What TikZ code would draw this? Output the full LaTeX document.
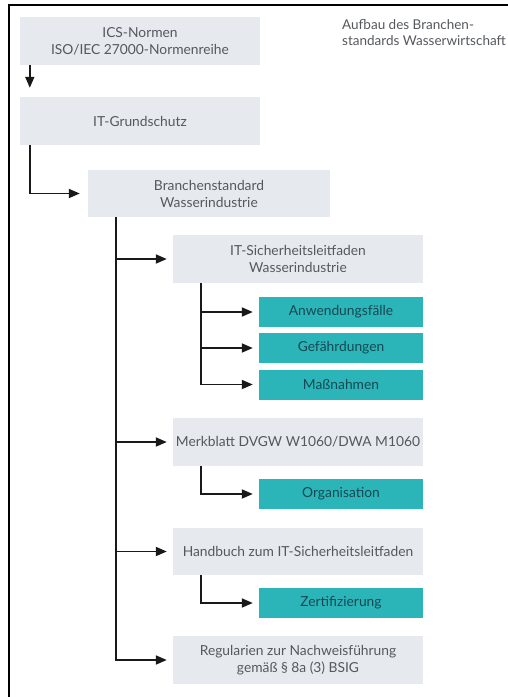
\documentclass[tikz,border=0pt]{standalone}
\usepackage{fontspec}
\setmainfont{Lato}
\usetikzlibrary{arrows.meta,positioning}
\definecolor{mist}{RGB}{230,233,238}
\definecolor{teal}{RGB}{43,181,184}
\definecolor{deepteal}{RGB}{22,72,84}
\definecolor{slate}{RGB}{85,88,92}
\definecolor{ink}{RGB}{25,25,25}
\tikzset{
  >={Triangle[length=11pt,width=9pt]},
  gbox/.style={fill=mist,text=slate,minimum height=48pt,minimum width=#1,
    align=center,font=\fontsize{13.8}{17}\selectfont,inner sep=1pt},
  gbox/.default=250pt,
  tbox/.style={fill=teal,text=deepteal,minimum height=30pt,minimum width=164pt,
    align=center,font=\fontsize{13.8}{17}\selectfont},
  flow/.style={->,line width=1.8pt,draw=ink,shorten >=#1},
  flow/.default=6pt,
}
\begin{document}
\begin{tikzpicture}[x=1pt,y=-1pt]
  \useasboundingbox (0,0) rectangle (508,697);
  \clip (0,0) rectangle (508,697);
  \draw[line width=1.2pt] (9,697) -- (9,5) -- (508,5);

  % left column
  \node[gbox=240pt] (ics) at (140,41) {ICS-Normen\\ISO/IEC 27000-Normenreihe};
  \node[gbox=240pt] (grund) at (140,121) {IT-Grundschutz};
  \node[gbox=242pt,minimum height=47pt] (branche) at (209,193.5) {Branchenstandard\\Wasserindustrie};
  \node[anchor=north west,text=slate,align=left,font=\fontsize{13.5}{16}\selectfont,inner sep=0pt]
    (titel) at (342,19) {Aufbau des Branchen-\\standards Wasserwirtschaft};

  % second level
  \node[gbox] (leit) at (298,259) {IT-Sicherheitsleitfaden\\Wasserindustrie};
  \node[gbox] (merk) at (298,442) {Merkblatt DVGW W1060/DWA M1060};
  \node[gbox,minimum height=47pt] (hand) at (298,551.5) {Handbuch zum IT-Sicherheitsleitfaden};
  \node[gbox] (regul) at (298,660) {Regularien zur Nachweisführung\\gemäß § 8a (3) BSIG};

  % teal boxes
  \node[tbox] (anw) at (341,312) {Anwendungsfälle};
  \node[tbox] (gef) at (341,348) {Gefährdungen};
  \node[tbox] (mass) at (341,384.5) {Maßnahmen};
  \node[tbox] (org) at (341,494) {Organisation};
  \node[tbox] (zert) at (341,603) {Zertifizierung};

  % connectors
  \draw[flow=9pt] ([xshift=10pt]ics.south west) -- ([xshift=10pt]grund.north west);
  \draw[flow=8pt] ([xshift=10pt]grund.south west) |- (branche.west);
  \draw[flow] ([xshift=28pt]branche.south west) |- (regul.west);
  \foreach \n in {leit,merk,hand}
    \draw[flow] ([xshift=28pt]branche.south west |- \n.west) -- (\n.west);
  \draw[flow] ([xshift=28pt]leit.south west) |- (mass.west);
  \foreach \n in {anw,gef}
    \draw[flow] ([xshift=28pt]leit.south west |- \n.west) -- (\n.west);
  \draw[flow] ([xshift=28pt]merk.south west) |- (org.west);
  \draw[flow] ([xshift=28pt]hand.south west) |- (zert.west);
\end{tikzpicture}
\end{document}
